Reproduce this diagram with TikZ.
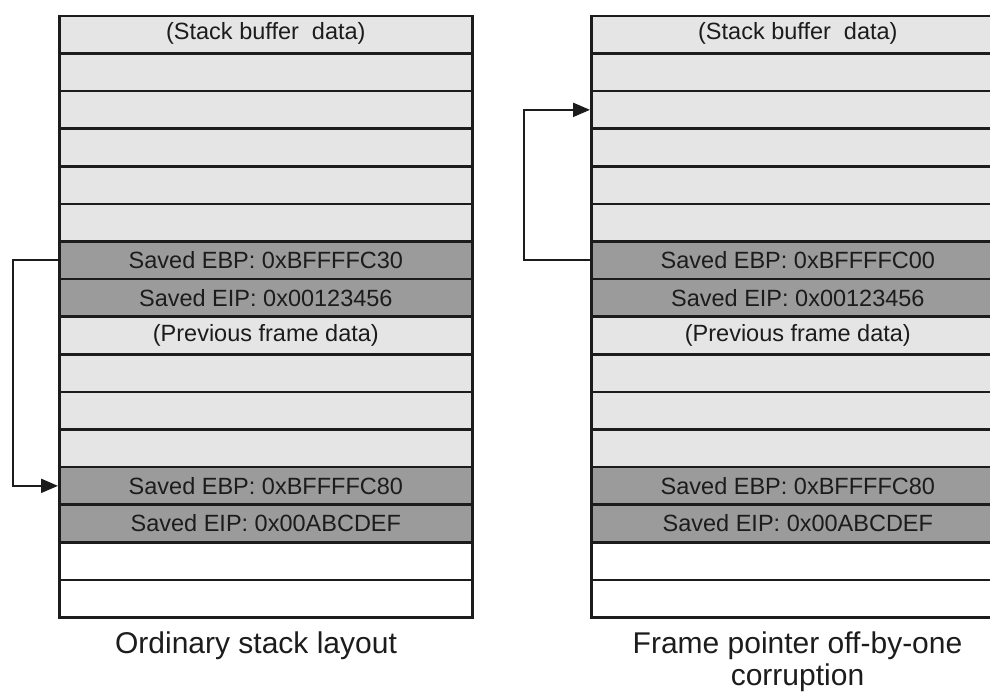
\documentclass[tikz,border=0pt]{standalone}
\usepackage{fontspec}
\setmainfont{Liberation Sans}
\usetikzlibrary{arrows.meta}
\definecolor{cellfill}{HTML}{E5E5E5}
\definecolor{regfill}{HTML}{9B9B9B}
\definecolor{ink}{HTML}{1C1C1C}
\begin{document}
\begin{tikzpicture}[x=1pt,y=-1pt,
  cell/.style={draw=ink, line width=2.7pt, fill=cellfill, minimum width=413pt,
    minimum height=37.6pt, inner sep=0pt, anchor=north west,
    font=\fontsize{23.5}{28}\selectfont, text=ink},
  reg/.style={cell, fill=regfill},
  blank/.style={cell, fill=white},
  lbl/.style={font=\fontsize{23.5}{28}\selectfont, text=ink},
  conn/.style={draw=ink, line width=2.2pt, -{Triangle[length=17pt,width=14pt]}},
  caption/.style={font=\fontsize{30}{32}\selectfont, text=ink, inner sep=0pt, align=center}]
\useasboundingbox (0,0) rectangle (990,691);
% the two stacks
\foreach \x/\p in {58/L, 590/R}{
  \node[cell]  (\p1)  at (\x,14.5)            {};
  \node[cell]  (\p2)  at (\x,14.5+37.6)       {};
  \node[cell]  (\p3)  at (\x,14.5+2*37.6)     {};
  \node[cell]  (\p4)  at (\x,14.5+3*37.6)     {};
  \node[cell]  (\p5)  at (\x,14.5+4*37.6)     {};
  \node[cell]  (\p6)  at (\x,14.5+5*37.6)     {};
  \node[reg]   (\p7)  at (\x,14.5+6*37.6)     {};
  \node[reg]   (\p8)  at (\x,14.5+7*37.6)     {Saved EIP: 0x00123456};
  \node[cell]  (\p9)  at (\x,14.5+8*37.6)     {(Previous frame data)};
  \node[cell]  (\p10) at (\x,14.5+9*37.6)     {};
  \node[cell]  (\p11) at (\x,14.5+10*37.6)    {};
  \node[cell]  (\p12) at (\x,14.5+11*37.6)    {};
  \node[reg]   (\p13) at (\x,14.5+12*37.6)    {Saved EBP: 0xBFFFFC80};
  \node[reg]   (\p14) at (\x,14.5+13*37.6)    {Saved EIP: 0x00ABCDEF};
  \node[blank] (\p15) at (\x,14.5+14*37.6)    {};
  \node[blank] (\p16) at (\x,14.5+15*37.6)    {};
  \node[lbl] (\p top) at ([yshift=1pt]\p1.center) {(Stack buffer~~data)};
}
\node[lbl] (ebpL) at (L7.center) {Saved EBP: 0xBFFFFC30};
\node[lbl] (ebpR) at (R7.center) {Saved EBP: 0xBFFFFC00};
% connectors
\draw[conn] (L7.west) -- ++(-45,0) |- (L13.west);
\draw[conn] (R7.west) -- ++(-66,0) |- (R3.west);
% captions
\node[caption, anchor=base] (capL) at (256,653) {Ordinary stack layout};
\node[caption, anchor=north] (capR) at (797.5,632) {Frame pointer off-by-one\\corruption};
\end{tikzpicture}
\end{document}
